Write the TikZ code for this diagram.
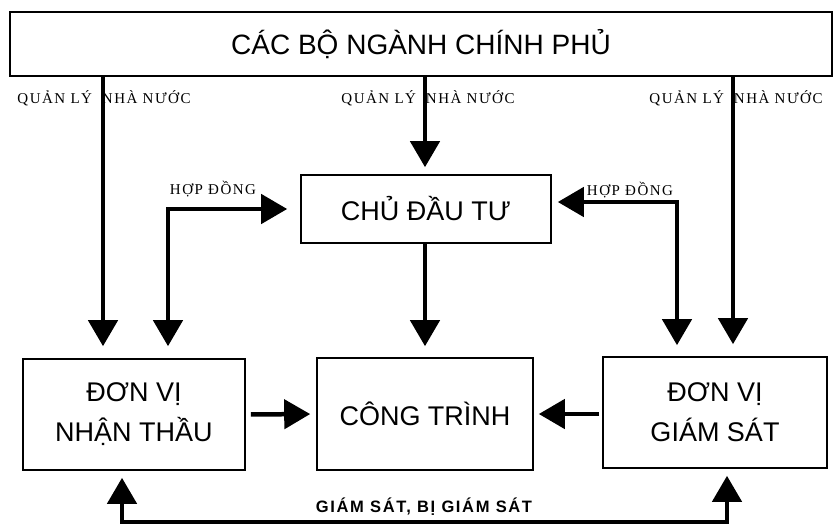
\documentclass[tikz,border=0pt]{standalone}
\usepackage{fontspec}
\setmainfont{Liberation Sans}
\newfontfamily\qlfont{Liberation Serif}[LetterSpace=10]
\newfontfamily\gsfont{Liberation Sans}[LetterSpace=10]
\usetikzlibrary{arrows.meta}

\begin{document}
\begin{tikzpicture}[x=1pt, y=-1pt]

\tikzstyle{box}=[draw, line width=1.6pt, align=center, inner sep=0pt, font=\fontsize{27}{40}\selectfont]
\tikzstyle{arr}=[-{Triangle[length=26pt, width=29pt]}, line width=4.5pt]
\tikzstyle{arrs}=[{Triangle[length=26pt, width=29pt]}-{Triangle[length=26pt, width=29pt]}, line width=4.5pt]
\tikzstyle{tag}=[inner sep=1pt, font=\qlfont\fontsize{15}{17}\selectfont]

\useasboundingbox (0,0) rectangle (839,525);

\node[box, minimum width=822pt, minimum height=64pt, font=\fontsize{28}{32}\selectfont] (gov) at (421,44) {CÁC BỘ NGÀNH CHÍNH PHỦ};
\node[box, minimum width=250pt, minimum height=68pt] (chu_dau_tu) at (426,209) {CHỦ ĐẦU TƯ};
\node[box, minimum width=222pt, minimum height=111pt] (nhan_thau) at (134,414.5) {ĐƠN VỊ\\NHẬN THẦU};
\node[box, minimum width=216pt, minimum height=112pt] (cong_trinh) at (425,414) {CÔNG TRÌNH};
\node[box, minimum width=224pt, minimum height=111pt] (giam_sat) at (715,412.5) {ĐƠN VỊ\\GIÁM SÁT};

\node[tag] (ql_left) at (104,98) {QUẢN LÝ\hspace{10pt}NHÀ NƯỚC};
\node[tag] (ql_mid) at (428,98) {QUẢN LÝ\hspace{10pt}NHÀ NƯỚC};
\node[tag] (ql_right) at (736,98) {QUẢN LÝ\hspace{10pt}NHÀ NƯỚC};
\node[tag] (hd_left) at (213,189) {HỢP ĐỒNG};
\node[tag] (hd_right) at (630,190) {HỢP ĐỒNG};
\node[inner sep=1pt, font=\gsfont\bfseries\fontsize{16.5}{18}\selectfont] (gs_tag) at (424,507) {GIÁM SÁT, BỊ GIÁM SÁT};

\coordinate (ql_a) at (103,0);
\coordinate (ql_b) at (425,0);
\coordinate (ql_c) at (733,0);
\coordinate (hd_a) at (168,209);
\coordinate (hd_b) at (677,202);
\coordinate (gs_a) at (122,522);
\coordinate (gs_b) at (727,522);

\draw[arr, shorten >=12pt] (gov.south -| ql_a) -- (nhan_thau.north -| ql_a);
\draw[arr, shorten >=7pt] (gov.south -| ql_b) -- (chu_dau_tu.north -| ql_b);
\draw[arr, shorten >=12pt] (gov.south -| ql_c) -- (giam_sat.north -| ql_c);
\draw[arrs, shorten <=12pt, shorten >=13pt] (nhan_thau.north -| hd_a) -- (hd_a) -- (chu_dau_tu.west |- hd_a);
\draw[arrs, shorten <=11pt, shorten >=6pt] (giam_sat.north -| hd_b) -- (hd_b) -- (chu_dau_tu.east |- hd_b);
\draw[arr, shorten >=11pt] (chu_dau_tu.south -| ql_b) -- (cong_trinh.north -| ql_b);
\draw[arr, shorten <=5pt, shorten >=6pt] (nhan_thau.east) -- (cong_trinh.west);
\draw[arr, shorten <=3pt, shorten >=5pt] (giam_sat.west |- cong_trinh.east) -- (cong_trinh.east);
\draw[arrs, shorten <=7pt, shorten >=7pt] (nhan_thau.south -| gs_a) -- (gs_a) -- (gs_b) -- (giam_sat.south -| gs_b);

\end{tikzpicture}
\end{document}
